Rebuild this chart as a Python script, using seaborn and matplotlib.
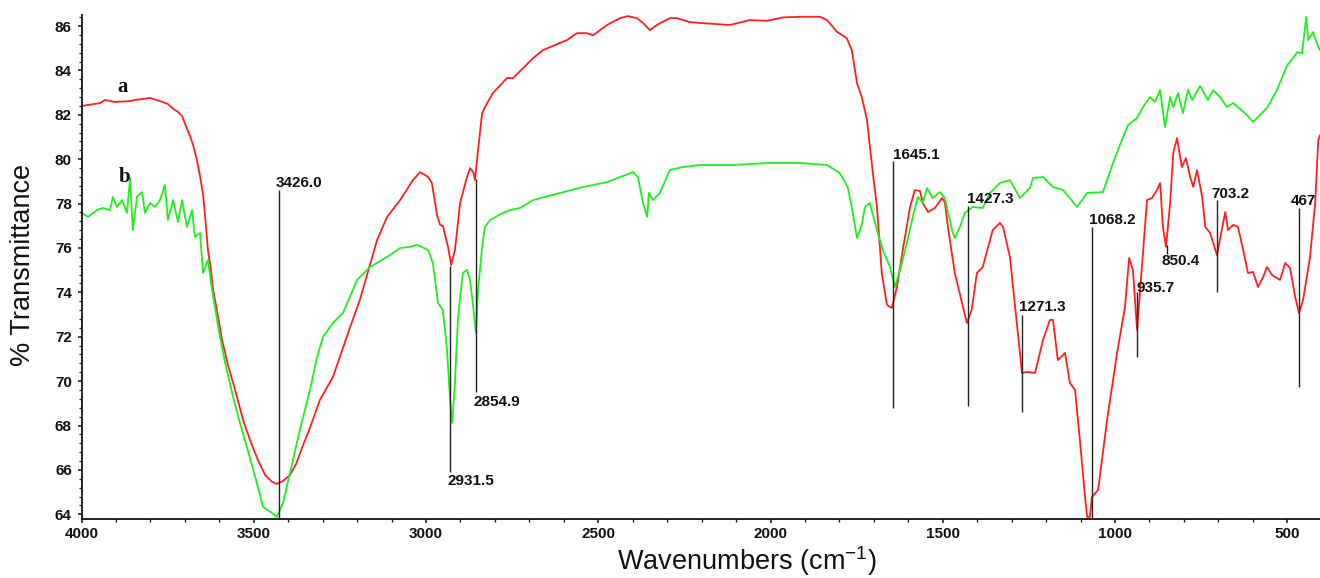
import matplotlib
matplotlib.use("Agg")
import matplotlib.pyplot as plt
import numpy as np
import pandas as pd
import seaborn as sns
from matplotlib.ticker import MultipleLocator

# ---- data ----
wn_a = [3999, 3946, 3932, 3903, 3859, 3845, 3816, 3801, 3772, 3749,
        3737, 3720, 3708, 3697, 3685, 3676, 3665, 3656, 3647, 3639,
        3633, 3624, 3618, 3607, 3592, 3575, 3554, 3531, 3511, 3488,
        3467, 3447, 3433, 3415, 3395, 3377, 3360, 3337, 3308, 3270,
        3221, 3192, 3142, 3113, 3075, 3038, 3017, 2994, 2983, 2968,
        2959, 2951, 2936, 2927, 2916, 2901, 2881, 2872, 2863, 2858,
        2849, 2837, 2829, 2806, 2765, 2747, 2689, 2660, 2591, 2562,
        2533, 2515, 2474, 2437, 2414, 2388, 2370, 2350, 2330, 2292,
        2272, 2234, 2205, 2118, 2060, 2009, 1964, 1915, 1857, 1836,
        1807, 1779, 1764, 1749, 1735, 1720, 1703, 1691, 1677, 1662,
        1648, 1633, 1616, 1595, 1581, 1566, 1558, 1543, 1523, 1502,
        1494, 1485, 1465, 1444, 1430, 1416, 1401, 1384, 1355, 1334,
        1325, 1305, 1290, 1270, 1256, 1232, 1209, 1189, 1180, 1166,
        1145, 1131, 1116, 1102, 1087, 1081, 1073, 1067, 1049, 1023,
        994, 971, 959, 948, 936, 922, 907, 893, 878, 869,
        861, 852, 840, 831, 820, 806, 794, 782, 773, 762,
        747, 738, 724, 704, 680, 672, 657, 643, 628, 614,
        599, 585, 570, 559, 544, 521, 506, 492, 477, 466,
        454, 434, 419, 410, 405]
t_a = [82.40, 82.53, 82.67, 82.58, 82.62, 82.67, 82.73, 82.76, 82.62, 82.49,
       82.31, 82.13, 81.95, 81.50, 81.05, 80.64, 79.96, 79.24, 78.39, 77.04,
       75.91, 75.01, 74.11, 73.21, 71.86, 70.73, 69.60, 68.25, 67.35, 66.45,
       65.77, 65.46, 65.37, 65.50, 65.77, 66.27, 66.99, 67.89, 69.15, 70.19,
       72.40, 73.66, 76.36, 77.40, 78.16, 79.06, 79.42, 79.20, 78.93, 77.49,
       77.04, 76.99, 76.05, 75.23, 75.91, 78.03, 79.20, 79.60, 79.42, 79.06,
       80.41, 82.08, 82.35, 82.98, 83.66, 83.66, 84.56, 84.92, 85.37, 85.68,
       85.68, 85.59, 86.05, 86.36, 86.45, 86.36, 86.14, 85.82, 86.05, 86.36,
       86.36, 86.18, 86.14, 86.05, 86.27, 86.24, 86.39, 86.42, 86.42, 86.27,
       85.74, 85.46, 84.92, 83.43, 82.80, 81.77, 79.38, 77.85, 74.87, 73.43,
       73.30, 74.24, 75.91, 77.85, 78.61, 78.57, 78.03, 77.62, 77.80, 78.25,
       78.07, 76.95, 74.87, 73.52, 72.62, 73.21, 74.87, 75.14, 76.81, 77.13,
       76.95, 75.59, 73.34, 70.37, 70.41, 70.37, 71.86, 72.76, 72.76, 70.95,
       71.27, 69.92, 69.60, 67.35, 64.78, 63.88, 63.88, 64.78, 65.10, 68.25,
       71.27, 73.34, 75.55, 75.01, 72.31, 75.14, 78.16, 78.25, 78.61, 78.93,
       76.95, 76.05, 78.03, 80.28, 80.95, 79.65, 80.05, 79.20, 78.75, 79.51,
       78.30, 76.95, 76.68, 75.68, 77.62, 76.81, 77.04, 76.95, 75.91, 74.87,
       74.92, 74.24, 74.69, 75.14, 74.78, 74.56, 75.32, 75.10, 73.79, 73.07,
       73.66, 75.59, 78.03, 80.86, 81.09]

wn_b = [3999, 3981, 3955, 3938, 3917, 3909, 3897, 3882, 3868, 3859,
        3851, 3839, 3824, 3816, 3801, 3787, 3772, 3758, 3749, 3734,
        3720, 3708, 3694, 3679, 3671, 3656, 3647, 3633, 3621, 3598,
        3583, 3560, 3540, 3520, 3491, 3473, 3447, 3433, 3415, 3395,
        3366, 3337, 3316, 3299, 3270, 3241, 3221, 3200, 3163, 3113,
        3075, 3046, 3026, 2994, 2980, 2965, 2951, 2939, 2930, 2924,
        2916, 2907, 2893, 2881, 2872, 2863, 2855, 2849, 2837, 2829,
        2814, 2777, 2756, 2727, 2689, 2611, 2544, 2474, 2399, 2385,
        2370, 2358, 2353, 2341, 2321, 2292, 2254, 2205, 2109, 2009,
        1915, 1836, 1799, 1776, 1761, 1749, 1735, 1726, 1712, 1691,
        1674, 1653, 1639, 1624, 1604, 1587, 1572, 1558, 1546, 1529,
        1508, 1494, 1473, 1465, 1450, 1436, 1413, 1384, 1363, 1334,
        1305, 1276, 1247, 1238, 1209, 1180, 1151, 1110, 1081, 1035,
        1006, 980, 962, 936, 919, 898, 884, 869, 855, 840,
        831, 817, 803, 788, 776, 753, 730, 715, 695, 675,
        657, 617, 599, 559, 530, 500, 483, 471, 457, 445,
        439, 425, 410, 405]
t_b = [77.58, 77.40, 77.71, 77.80, 77.71, 78.30, 77.85, 78.16, 77.58, 79.15,
       76.81, 78.30, 78.52, 77.58, 78.03, 77.85, 78.16, 78.84, 77.26, 78.16,
       77.17, 78.16, 76.95, 77.71, 76.50, 76.68, 74.87, 75.46, 74.11, 71.99,
       70.82, 69.29, 68.12, 67.04, 65.41, 64.33, 64.06, 63.88, 64.51, 65.86,
       67.80, 69.60, 71.09, 71.99, 72.62, 73.07, 73.79, 74.56, 75.14, 75.59,
       76.00, 76.05, 76.14, 75.91, 75.32, 73.52, 73.21, 71.41, 69.15, 68.12,
       69.92, 72.89, 74.87, 75.01, 74.56, 73.34, 72.17, 74.11, 76.05, 76.95,
       77.26, 77.58, 77.71, 77.80, 78.16, 78.48, 78.75, 78.97, 79.42, 79.20,
       78.03, 77.40, 78.48, 78.16, 78.48, 79.51, 79.65, 79.74, 79.74, 79.83,
       79.83, 79.74, 79.38, 78.75, 77.58, 76.45, 77.04, 77.85, 78.03, 76.81,
       75.91, 75.14, 74.24, 75.01, 76.23, 77.40, 78.30, 78.03, 78.70, 78.25,
       78.52, 78.25, 76.81, 76.45, 76.95, 77.58, 77.85, 77.80, 78.48, 78.93,
       79.06, 78.25, 78.70, 79.15, 79.20, 78.75, 78.61, 77.85, 78.48, 78.52,
       79.83, 80.86, 81.54, 81.86, 82.35, 82.80, 82.58, 83.12, 81.45, 82.80,
       82.35, 82.98, 82.08, 83.12, 82.67, 83.30, 82.67, 83.12, 82.80, 82.35,
       82.53, 81.99, 81.68, 82.31, 83.12, 84.24, 84.56, 84.83, 84.78, 86.41,
       85.37, 85.73, 85.05, 84.92]

peak_labels = ["3426.0", "2931.5", "2854.9", "1645.1", "1427.3", "1271.3",
               "1068.2", "935.7", "850.4", "703.2", "467"]
peak_pos = [3426.0, 2931.5, 2854.9, 1645.1, 1427.3, 1271.3,
            1068.2, 935.7, 850.4, 703.2, 467.0]
line_top = [78.6, 75.2, 79.1, 79.9, 77.9, 73.0, 76.95, 74.0, 76.15, 78.15, 77.8]
line_bottom = [63.8, 65.9, 69.5, 68.8, 68.9, 68.6, 63.8, 71.1, 75.75, 74.0, 69.75]
label_x = [3435, 2939, 2861, 1645, 1430, 1279, 1075, 937, 864, 719, 489]
label_y = [78.93, 65.5, 69.06, 80.19, 78.2, 73.34, 77.26, 74.2, 75.41, 78.43, 78.12]

curve_names = ["a", "b"]
curve_label_x = [3882, 3874]
curve_label_y = [83.03, 78.97]

# ---- plot ----
sns.set_theme(style="ticks")
plt.rcParams["font.family"] = ["Liberation Sans", "DejaVu Sans"]
plt.rcParams["mathtext.fontset"] = "custom"
plt.rcParams["mathtext.rm"] = "Liberation Sans"

W, H = 1320, 578
fig = plt.figure(figsize=(W / 100, H / 100), dpi=100)
fig.patch.set_facecolor("white")
left_px, right_px, top_px, bot_px = 81.5, 1320, 15, 518.7
ax = fig.add_axes([left_px / W, 1 - bot_px / H, (right_px - left_px) / W, (bot_px - top_px) / H])
ax.set_facecolor("white")

df = pd.concat([
    pd.DataFrame({"wn": wn_a, "T": t_a, "sample": "a"}),
    pd.DataFrame({"wn": wn_b, "T": t_b, "sample": "b"}),
], ignore_index=True)
sns.lineplot(data=df, x="wn", y="T", hue="sample",
             palette={"a": "#ff1f1f", "b": "#1fee1f"},
             estimator=None, sort=False, legend=False, linewidth=1.3, ax=ax)

ax.vlines(peak_pos, line_bottom, line_top, colors="#222222", linewidth=1.0, zorder=3)
for lx, ly, txt in zip(label_x, label_y, peak_labels):
    ax.text(lx, ly, txt, ha="left", va="center", fontsize=11, fontweight="bold",
            color="#111111", zorder=4)
for nm, cx, cy in zip(curve_names, curve_label_x, curve_label_y):
    ax.text(cx, cy, nm, ha="center", va="baseline", fontsize=15, fontweight="bold",
            family=["Liberation Serif", "DejaVu Serif"], color="#111111")

ax.set_xlim(4000, 405)
ax.set_ylim(63.8, 86.5)
ax.xaxis.set_major_locator(MultipleLocator(500))
ax.xaxis.set_minor_locator(MultipleLocator(100))
ax.yaxis.set_major_locator(MultipleLocator(2))
ax.yaxis.set_minor_locator(MultipleLocator(0.4))
ax.tick_params(which="major", direction="out", length=3, width=1.1,
               labelsize=11, colors="#111111")
ax.tick_params(axis="y", which="major", pad=4)
ax.tick_params(axis="x", which="major", pad=3)
ax.tick_params(which="minor", direction="out", length=2, width=0.9, color="#111111")
for lab in ax.get_xticklabels() + ax.get_yticklabels():
    lab.set_fontweight("bold")
sns.despine(ax=ax)
for sp in ["left", "bottom"]:
    ax.spines[sp].set_linewidth(1.3)
    ax.spines[sp].set_color("#111111")
ax.set_xlabel("")
ax.set_ylabel("")
ax.grid(False)

fig.text(23 / W, 1 - 265 / H, "% Transmittance", rotation=90, ha="center", va="center",
         fontsize=19.5, color="#111111")
fig.text(747 / W, 1 - 570 / H, r"Wavenumbers (cm$^{\mathregular{-1}}$)", ha="center",
         va="baseline", fontsize=19.5, color="#111111")

fig.savefig("out.png", dpi=100, facecolor="white")
